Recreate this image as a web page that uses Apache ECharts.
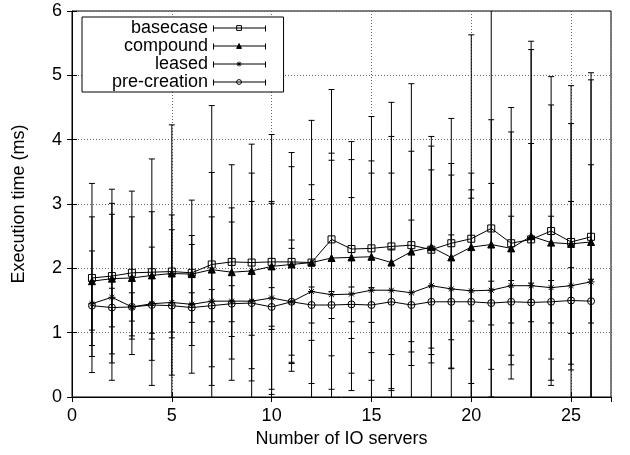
<!DOCTYPE html>
<html>
<head>
<meta charset="utf-8">
<script src="https://cdn.jsdelivr.net/npm/echarts@6/dist/echarts.min.js"></script>
<style>
html, body { margin: 0; padding: 0; background: #fff; }
#main { width: 630px; height: 455px; }
</style>
</head>
<body>
<div id="main"></div>
<script>
// number of IO servers
var servers = [1, 2, 3, 4, 5, 6, 7, 8, 9, 10, 11, 12, 13, 14, 15, 16, 17, 18, 19, 20, 21, 22, 23, 24, 25, 26];

// mean execution time (ms)
var basecase = [1.85, 1.88, 1.93, 1.94, 1.95, 1.93, 2.06, 2.10, 2.09, 2.10, 2.10, 2.09, 2.45, 2.30, 2.31, 2.34, 2.36, 2.29, 2.39, 2.46, 2.62, 2.39, 2.45, 2.58, 2.41, 2.49];
var compound = [1.80, 1.84, 1.85, 1.89, 1.92, 1.91, 1.98, 1.94, 1.96, 2.03, 2.06, 2.09, 2.16, 2.17, 2.18, 2.09, 2.26, 2.33, 2.17, 2.33, 2.37, 2.31, 2.50, 2.40, 2.38, 2.41];
var leased = [1.45, 1.55, 1.40, 1.45, 1.47, 1.44, 1.49, 1.49, 1.49, 1.54, 1.48, 1.64, 1.59, 1.60, 1.66, 1.66, 1.62, 1.73, 1.68, 1.65, 1.66, 1.73, 1.73, 1.70, 1.73, 1.79];
var precreation = [1.42, 1.39, 1.40, 1.43, 1.42, 1.39, 1.42, 1.45, 1.46, 1.40, 1.48, 1.43, 1.43, 1.44, 1.43, 1.48, 1.43, 1.48, 1.48, 1.48, 1.46, 1.48, 1.47, 1.48, 1.50, 1.49];

// error bar half-widths (ms)
var basecaseErr = [1.47, 1.35, 1.27, 1.76, 2.28, 1.13, 2.47, 1.51, 1.84, 1.98, 1.70, 2.21, 2.33, 1.39, 2.05, 2.24, 2.51, 1.76, 1.94, 3.17, 3.60, 2.11, 3.08, 2.40, 2.43, 2.55];
var compoundErr = [1.00, 1.17, 0.95, 0.99, 0.91, 0.46, 1.51, 1.00, 1.52, 0.98, 1.52, 1.21, 1.52, 1.80, 1.49, 1.96, 1.56, 1.57, 1.28, 1.15, 1.94, 1.81, 2.90, 2.14, 1.87, 2.52];
var leasedErr = [0.82, 1.29, 0.45, 0.88, 1.13, 1.07, 1.31, 1.23, 1.55, 1.50, 0.96, 1.43, 2.20, 1.50, 1.82, 1.82, 1.13, 1.80, 1.95, 1.44, 1.66, 1.08, 2.21, 1.11, 1.31, 1.82];
var precreationErr = [0.38, 0.30, 0.22, 0.44, 0.50, 0.23, 0.25, 0.28, 0.50, 0.30, 0.83, 0.28, 0.21, 0.27, 0.27, 0.82, 0.57, 0.82, 1.04, 1.74, 0.34, 0.33, 0.30, 0.33, 0.51, 0.34];

var seriesNames = ['basecase', 'compound', 'leased', 'pre-creation'];

var FONT = '"Liberation Sans", Arial, Helvetica, sans-serif';
var starPath = 'path://M5,0L5,10M0,5L10,5M1.5,1.5L8.5,8.5M1.5,8.5L8.5,1.5';

// legend box placement
var LEG_LEFT = 82, LEG_TOP = 17, LEG_PADL = 30, LEG_ROW = 18, LEG_ICON_W = 52;

var chart = echarts.init(document.getElementById('main'));

function pairs(vals) {
	var out = [];
	for (var i = 0; i < servers.length; i++) {
		out.push([servers[i], vals[i]]);
	}
	return out;
}

function errSeries(name, vals, errs) {
	var data = [];
	for (var i = 0; i < servers.length; i++) {
		data.push([servers[i], vals[i] - errs[i], vals[i] + errs[i]]);
	}
	return {
		type: 'custom',
		name: name,
		clip: true,
		silent: true,
		data: data,
		encode: { x: 0, y: [1, 2] },
		renderItem: function(params, api) {
			var lo = api.coord([api.value(0), api.value(1)]);
			var hi = api.coord([api.value(0), api.value(2)]);
			var w = 3;
			var st = { stroke: '#000', lineWidth: 1 };
			return {
				type: 'group',
				children: [
					{ type: 'line', shape: { x1: lo[0], y1: lo[1], x2: hi[0], y2: hi[1] }, style: st },
					{ type: 'line', shape: { x1: lo[0] - w, y1: lo[1], x2: lo[0] + w, y2: lo[1] }, style: st },
					{ type: 'line', shape: { x1: hi[0] - w, y1: hi[1], x2: hi[0] + w, y2: hi[1] }, style: st }
				]
			};
		}
	};
}

function lineSeries(name, vals, symbol, fill, size) {
	return {
		type: 'line',
		name: name,
		data: pairs(vals),
		symbol: symbol,
		symbolSize: size,
		showAllSymbol: true,
		silent: true,
		lineStyle: { color: '#000', width: 1 },
		itemStyle: { color: fill, borderColor: '#000', borderWidth: 1 },
		emphasis: { disabled: true }
	};
}

var axisTick = { show: true, inside: true, length: 5, lineStyle: { color: '#000' } };
var gridLine = { show: true, lineStyle: { color: '#666', type: [1, 2], width: 1 } };

var option = {
	animation: false,
	backgroundColor: '#fff',
	textStyle: { fontFamily: FONT },
	grid: {
		left: 72, right: 19, top: 11, bottom: 58,
		show: true, borderColor: '#000', borderWidth: 1, backgroundColor: 'transparent'
	},
	legend: {
		data: seriesNames,
		orient: 'vertical',
		align: 'right',
		left: LEG_LEFT,
		top: LEG_TOP,
		itemWidth: LEG_ICON_W,
		itemHeight: 6,
		itemGap: 0,
		padding: [2, 18, 1, LEG_PADL],
		backgroundColor: '#fff',
		borderColor: '#000',
		borderWidth: 1,
		borderRadius: 0,
		selectedMode: false,
		lineStyle: { width: 1, color: '#000' },
		itemStyle: { borderWidth: 1, borderColor: '#000' },
		textStyle: { fontFamily: FONT, fontSize: 18, color: '#000', lineHeight: LEG_ROW }
	},
	xAxis: [{
		type: 'value',
		min: 0,
		max: 27,
		interval: 5,
		name: 'Number of IO servers',
		nameLocation: 'middle',
		nameGap: 30,
		nameTextStyle: { fontFamily: FONT, fontSize: 18, color: '#000' },
		axisLine: { show: true, onZero: false, lineStyle: { color: '#000' } },
		axisTick: axisTick,
		axisLabel: { fontFamily: FONT, fontSize: 18, color: '#000', margin: 10, showMaxLabel: false },
		splitLine: gridLine
	}, {
		type: 'value',
		position: 'top',
		min: 0,
		max: 27,
		interval: 5,
		axisLine: { show: false },
		axisTick: axisTick,
		axisLabel: { show: false },
		splitLine: { show: false }
	}],
	yAxis: [{
		type: 'value',
		min: 0,
		max: 6,
		interval: 1,
		name: 'Execution time (ms)',
		nameLocation: 'middle',
		nameGap: 44,
		nameTextStyle: { fontFamily: FONT, fontSize: 18, color: '#000' },
		axisLine: { show: true, onZero: false, lineStyle: { color: '#000' } },
		axisTick: axisTick,
		axisLabel: { fontFamily: FONT, fontSize: 18, color: '#000', margin: 10 },
		splitLine: gridLine
	}, {
		type: 'value',
		position: 'right',
		min: 0,
		max: 6,
		interval: 1,
		axisLine: { show: false },
		axisTick: axisTick,
		axisLabel: { show: false },
		splitLine: { show: false }
	}],
	series: [
		errSeries('basecase-err', basecase, basecaseErr),
		errSeries('compound-err', compound, compoundErr),
		errSeries('leased-err', leased, leasedErr),
		errSeries('pre-creation-err', precreation, precreationErr),
		lineSeries('basecase', basecase, 'rect', 'rgba(255,255,255,0)', 7),
		lineSeries('compound', compound, 'triangle', '#000', 7),
		lineSeries('leased', leased, starPath, 'rgba(255,255,255,0)', 7),
		lineSeries('pre-creation', precreation, 'circle', 'rgba(255,255,255,0)', 7)
	]
};

chart.setOption(option);

// error-bar end caps on the legend samples, placed from the rendered legend
var legendView = chart.getViewOfComponentModel(chart.getModel().getComponent('legend'));
var capLines = [];
if (legendView && legendView.getContentGroup) {
	var content = legendView.getContentGroup();
	content.eachChild(function(item) {
		var gx = legendView.group.x + content.x + item.x;
		var gy = legendView.group.y + content.y + item.y;
		var cy = Math.round(gy + 3) + 0.5;
		[gx, gx + LEG_ICON_W].forEach(function(cx) {
			cx = Math.round(cx) + 0.5;
			capLines.push({
				type: 'line', silent: true, z: 100,
				shape: { x1: cx, y1: cy - 3, x2: cx, y2: cy + 3 },
				style: { stroke: '#000', lineWidth: 1 }
			});
		});
	});
}
chart.setOption({ graphic: capLines });
</script>
</body>
</html>
